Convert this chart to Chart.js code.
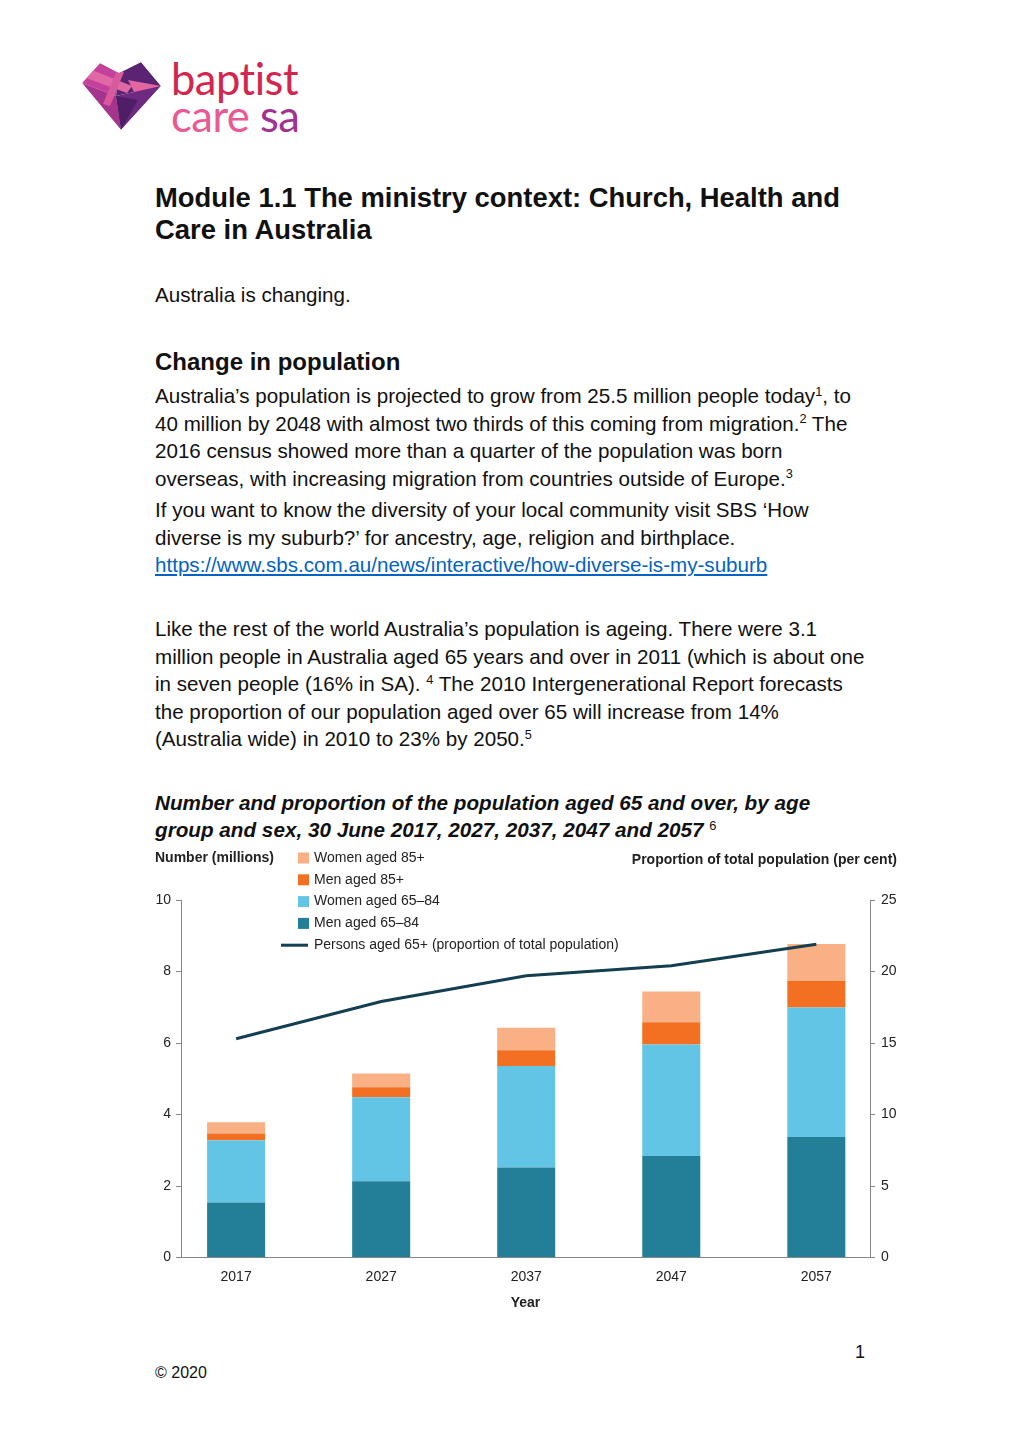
<!DOCTYPE html>
<html>
<head>
<meta charset="utf-8">
<title>Module 1.1 The ministry context</title>
<script src="https://cdn.jsdelivr.net/npm/chart.js@4"></script>
<style>
  html, body { margin: 0; padding: 0; background: #fff; }
  body { width: 1020px; height: 1443px; position: relative; overflow: hidden;
         font-family: 'Liberation Sans', Arial, sans-serif; color: #111; }
  .blk { position: absolute; left: 155px; white-space: nowrap; }
  .body { font-size: 20.6px; line-height: 27.5px; }
  .title { font-size: 27.4px; line-height: 32px; font-weight: bold; }
  .h2 { font-size: 24px; line-height: 30px; font-weight: bold; }
  .cap { font-size: 20.7px; line-height: 27px; font-weight: bold; font-style: italic; }
  sup { font-size: 0.62em; vertical-align: baseline; position: relative; top: -0.55em; line-height: 0; }
  a { color: #0563c1; text-decoration: underline; }
  .logo-text { position: absolute; left: 171px; font-family: Lato, 'Open Sans', sans-serif;
               font-size: 43.5px; line-height: 40px; letter-spacing: -0.5px; }
  #chartBox { position: absolute; left: 140px; top: 840px; width: 780px; height: 480px; }
</style>
</head>
<body>

<!-- logo -->
<svg style="position:absolute;left:0;top:0" width="170" height="140">
  <defs>
    <clipPath id="heart"><polygon points="82,83 100,63 119,73 141,62 161,86 121,130"/></clipPath>
  </defs>
  <g clip-path="url(#heart)">
    <polygon points="82,83 100,63 119,73 116,96" fill="#c4409a"/>
    <polygon points="82,83 116,96 121,130" fill="#a6338c"/>
    <polygon points="119,73 141,62 161,86 116,96" fill="#5a2473"/>
    <polygon points="128,80 161,86 138,100" fill="#e2669f"/>
    <polygon points="116,96 161,86 121,130" fill="#6e2a80"/>
    <polygon points="116,96 138,100 121,130" fill="#4e1f66"/>
    <polygon points="86,78 92,70 132,86 127,93" fill="#e068a5"/>
    <polygon points="117,70 124,72 110,106 103,104" fill="#d95a9c"/>
  </g>
</svg>
<div class="logo-text" style="top:58px;color:#d3264f">baptist</div>
<div class="logo-text" style="top:95px"><span style="color:#ea5a92">care</span> <span style="color:#a2318f">sa</span></div>

<div class="blk title" style="top:182px">Module 1.1 The ministry context: Church, Health and<br>Care in Australia</div>

<div class="blk body" style="top:281px">Australia is changing.</div>

<div class="blk h2" style="top:347px">Change in population</div>

<div class="blk body" style="top:382px">Australia’s population is projected to grow from 25.5 million people today<sup>1</sup>, to<br>40 million by 2048 with almost two thirds of this coming from migration.<sup>2</sup> The<br>2016 census showed more than a quarter of the population was born<br>overseas, with increasing migration from countries outside of Europe.<sup>3</sup></div>

<div class="blk body" style="top:496px">If you want to know the diversity of your local community visit SBS ‘How<br>diverse is my suburb?’ for ancestry, age, religion and birthplace.<br><a href="#">https://www.sbs.com.au/news/interactive/how-diverse-is-my-suburb</a></div>

<div class="blk body" style="top:615px">Like the rest of the world Australia’s population is ageing. There were 3.1<br>million people in Australia aged 65 years and over in 2011 (which is about one<br>in seven people (16% in SA). <sup>4</sup> The 2010 Intergenerational Report forecasts<br>the proportion of our population aged over 65 will increase from 14%<br>(Australia wide) in 2010 to 23% by 2050.<sup>5</sup></div>

<div class="blk cap" style="top:789px">Number and proportion of the population aged 65 and over, by age<br>group and sex, 30 June 2017, 2027, 2037, 2047 and 2057 <sup style="font-weight:normal;font-style:normal">6</sup></div>

<div id="chartBox"><canvas id="popChart"></canvas></div>

<div style="position:absolute;left:855px;top:1340px;font-size:18px;line-height:24px">1</div>
<div style="position:absolute;left:155px;top:1362px;font-size:16px;line-height:22px">© 2020</div>

<script>
// data
const years = [2017, 2027, 2037, 2047, 2057];
const menAged65to84 = [1.54, 2.13, 2.52, 2.84, 3.37];
const womenAged65to84 = [1.74, 2.35, 2.84, 3.12, 3.62];
const menAged85plus = [0.19, 0.28, 0.44, 0.62, 0.75];
const womenAged85plus = [0.31, 0.39, 0.63, 0.86, 1.03];
const persons65plusPct = [15.3, 17.9, 19.7, 20.4, 21.9];
const numberTicks = [0, 2, 4, 6, 8, 10];
const percentTicks = [0, 5, 10, 15, 20, 25];

const FONT = "'Liberation Sans', Arial, sans-serif";
Chart.defaults.font.family = FONT;
Chart.defaults.font.size = 14;
Chart.defaults.color = '#222';

const AXIS = '#858585';

function pts(values) {
  return values.map((v, i) => ({ x: years[i], y: v }));
}

// legend and the two axis headings, drawn straight on the canvas
const extras = {
  id: 'extras',
  afterDraw(chart) {
    const ctx = chart.ctx;
    ctx.save();
    ctx.textBaseline = 'middle';
    ctx.fillStyle = '#222';
    ctx.font = 'bold 14px ' + FONT;
    ctx.textAlign = 'left';
    ctx.fillText('Number (millions)', 15, 18);
    ctx.textAlign = 'right';
    ctx.fillText('Proportion of total population (per cent)', 757, 20);

    ctx.font = '14px ' + FONT;
    ctx.textAlign = 'left';
    const ds = chart.data.datasets;
    const order = [3, 2, 1, 0, 4];
    order.forEach((idx, row) => {
      const d = ds[idx];
      const y = 18 + row * 21.8;
      if (d.type === 'line') {
        ctx.strokeStyle = d.borderColor;
        ctx.lineWidth = 3;
        ctx.beginPath();
        ctx.moveTo(141, y);
        ctx.lineTo(168, y);
        ctx.stroke();
      } else {
        ctx.fillStyle = d.backgroundColor;
        ctx.fillRect(158, y - 5.5, 11, 11);
      }
      ctx.fillStyle = '#222';
      ctx.fillText(d.label, 174, y);
    });
    ctx.restore();
  }
};

new Chart(document.getElementById('popChart'), {
  type: 'bar',
  data: {
    datasets: [
      { label: 'Men aged 65–84', data: pts(menAged65to84), backgroundColor: '#237e97', yAxisID: 'y', order: 1 },
      { label: 'Women aged 65–84', data: pts(womenAged65to84), backgroundColor: '#63c5e6', yAxisID: 'y', order: 1 },
      { label: 'Men aged 85+', data: pts(menAged85plus), backgroundColor: '#f37022', yAxisID: 'y', order: 1 },
      { label: 'Women aged 85+', data: pts(womenAged85plus), backgroundColor: '#f9b084', yAxisID: 'y', order: 1 },
      { type: 'line', label: 'Persons aged 65+ (proportion of total population)', data: pts(persons65plusPct),
        borderColor: '#133f51', borderWidth: 3, pointRadius: 0, tension: 0, fill: false, yAxisID: 'y2', order: 0 }
    ]
  },
  options: {
    responsive: true,
    maintainAspectRatio: false,
    animation: false,
    layout: { padding: { top: 60, left: 0, right: 0, bottom: 0 } },
    datasets: { bar: { categoryPercentage: 1, barPercentage: 0.4 } },
    plugins: { legend: { display: false }, tooltip: { enabled: false } },
    scales: {
      x: {
        type: 'linear',
        offset: false,
        stacked: true,
        bounds: 'data',
        min: 2013.2,
        max: 2060.7,
        afterBuildTicks: (s) => { s.ticks = years.map(v => ({ value: v })); },
        afterFit: (s) => { s.height = 62.5; },
        ticks: { padding: 11, callback: (v) => String(v), maxRotation: 0 },
        grid: { display: false, drawTicks: false },
        border: { display: true, color: AXIS, width: 1 },
        title: { display: true, text: 'Year', font: { weight: 'bold', size: 14 }, padding: { top: 8, bottom: 8 } }
      },
      y: {
        position: 'left',
        stacked: true,
        min: 0,
        max: 10,
        afterBuildTicks: (s) => { s.ticks = numberTicks.map(v => ({ value: v })); },
        afterFit: (s) => { s.width = 41; },
        ticks: { padding: 5 },
        grid: { drawOnChartArea: false, drawTicks: true, tickLength: 5, color: AXIS },
        border: { display: true, color: AXIS, width: 1 }
      },
      y2: {
        position: 'right',
        min: 0,
        max: 25,
        afterBuildTicks: (s) => { s.ticks = percentTicks.map(v => ({ value: v })); },
        afterFit: (s) => { s.width = 50; },
        ticks: { padding: 6 },
        grid: { drawOnChartArea: false, drawTicks: true, tickLength: 5, color: AXIS },
        border: { display: true, color: AXIS, width: 1 }
      }
    }
  },
  plugins: [extras]
});
</script>
</body>
</html>
